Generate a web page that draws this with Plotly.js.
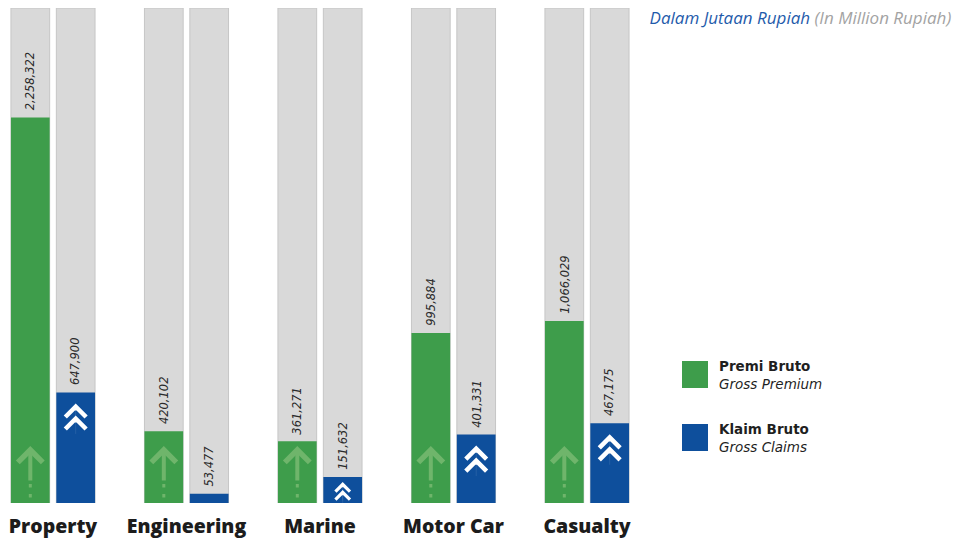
<!DOCTYPE html>
<html>
<head>
<meta charset="utf-8">
<script src="https://cdn.plot.ly/plotly-3.0.1.min.js"></script>
<style>
  html, body { margin: 0; padding: 0; background: #ffffff; }
  #chart { width: 956px; height: 539px; }
</style>
</head>
<body>
<div id="chart"></div>
<script>
// Gross premium and gross claims per line of business (million Rupiah)
const categories = ['Property', 'Engineering', 'Marine', 'Motor Car', 'Casualty'];
const grossPremium = [2258322, 420102, 361271, 995884, 1066029];
const grossClaims = [647900, 53477, 151632, 401331, 467175];
// Height of the grey background track behind every bar
const trackTop = 2900000;

const GREEN = '#3e9d4b';
const BLUE = '#0e4f9c';
const TRACK = '#d9d9d9';
const TRACK_EDGE = '#c6c6c6';

const W = 956, H = 539;
const M = { l: 0, r: 306, t: 8, b: 36 };
const plotW = W - M.l - M.r;
const plotH = H - M.t - M.b;

const barW = 0.29;
const offGreen = -0.315;
const offBlue = 0.025;
const cGreen = offGreen + barW / 2;
const cBlue = offBlue + barW / 2;

const idx = categories.map((_, i) => i);
const trackVals = categories.map(() => trackTop);

function bar(y, offset, color, edge, name) {
  return {
    type: 'bar', x: categories, y: y, name: name,
    offset: offset, width: barW,
    marker: { color: color, line: { color: edge, width: edge ? 1 : 0 } },
    hoverinfo: 'skip', showlegend: false
  };
}

const data = [
  bar(trackVals, offGreen, TRACK, TRACK_EDGE, 'track'),
  bar(trackVals, offBlue, TRACK, TRACK_EDGE, 'track'),
  bar(grossPremium, offGreen, GREEN, null, 'Premi Bruto'),
  bar(grossClaims, offBlue, BLUE, null, 'Klaim Bruto')
];

const pxPerUnit = plotH / trackTop;
const fmt = v => v.toLocaleString('en-US');
const annotations = [];

// value labels, rotated, just above each coloured bar
idx.forEach(i => {
  [[grossPremium[i], cGreen], [grossClaims[i], cBlue]].forEach(([v, c]) => {
    annotations.push({
      x: i + c, y: v, xref: 'x', yref: 'y',
      text: fmt(v), textangle: -90, showarrow: false,
      xanchor: 'center', yanchor: 'bottom', yshift: 5,
      font: { family: 'DejaVu Sans', size: 11.5, color: '#2a2a2a', style: 'italic' }
    });
  });
});

// faded up-arrow with dotted tail at the foot of each premium bar
const ARROW_GREEN = 'rgba(160,205,140,0.5)';
idx.forEach(i => {
  annotations.push({
    x: i + cGreen, y: 0, xref: 'x', yref: 'y', yshift: 57,
    text: '', showarrow: true, ax: 0, ay: 36, axref: 'pixel', ayref: 'pixel',
    arrowhead: 4, arrowsize: 1.2, arrowwidth: 4, arrowcolor: ARROW_GREEN,
    font: { size: 1 }
  });
  [4, 14].forEach(s => {
    annotations.push({
      x: i + cGreen, y: 0, xref: 'x', yref: 'y', yshift: s + 5,
      text: '', showarrow: true, ax: 0, ay: 5, axref: 'pixel', ayref: 'pixel',
      arrowhead: 0, arrowwidth: 3, arrowcolor: ARROW_GREEN,
      font: { size: 1 }
    });
  });
});

// white double chevron near the top of each claims bar (smaller on short bars)
idx.forEach(i => {
  const h = grossClaims[i] * pxPerUnit;
  if (h < 20) return;
  const small = h < 34;
  const shifts = small ? [5, 13] : [11, 23];
  shifts.forEach(s => {
    annotations.push({
      x: i + cBlue, y: grossClaims[i], xref: 'x', yref: 'y', yshift: -s,
      text: '', showarrow: true, ax: 0, ay: 20, axref: 'pixel', ayref: 'pixel',
      arrowhead: 4, arrowsize: small ? 28 : 40, arrowwidth: 0.1, arrowcolor: '#ffffff',
      font: { size: 1 }
    });
  });
});

// legend built from swatches and two-line captions
const px = x => (x - M.l) / plotW;
const py = y => (H - M.b - y) / plotH;
const legendItems = [
  { color: GREEN, top: 361, label: '<b>Premi Bruto</b><br><i>Gross Premium</i>' },
  { color: BLUE, top: 424, label: '<b>Klaim Bruto</b><br><i>Gross Claims</i>' }
];
const shapes = [];
legendItems.forEach(it => {
  shapes.push({
    type: 'rect', xref: 'paper', yref: 'paper',
    x0: px(682), x1: px(708), y0: py(it.top + 27), y1: py(it.top),
    fillcolor: it.color, line: { width: 0 }
  });
  annotations.push({
    xref: 'paper', yref: 'paper', x: px(717), y: py(it.top + 14),
    xanchor: 'left', yanchor: 'middle', align: 'left', showarrow: false,
    text: it.label,
    font: { family: 'DejaVu Sans', size: 13.5, color: '#1f1f1f' }
  });
});

const layout = {
  width: W, height: H,
  margin: M,
  paper_bgcolor: '#ffffff', plot_bgcolor: '#ffffff',
  barmode: 'overlay',
  showlegend: false,
  title: {
    text: '<i><span style="color:#1f5bab">Dalam Jutaan Rupiah</span> (In Million Rupiah)</i>',
    font: { family: 'Open Sans', size: 17, color: '#a3a3a3' },
    xref: 'container', yref: 'container', x: 0.995, xanchor: 'right',
    y: 1 - 18 / H, yanchor: 'middle'
  },
  xaxis: {
    type: 'category', range: [-53 / 133.5, (plotW - 53) / 133.5],
    showgrid: false, zeroline: false, showline: false, ticks: '',
    ticklabelstandoff: 9,
    tickfont: { family: 'Open Sans', size: 19.5, color: '#1c1c1c', weight: 800 }
  },
  yaxis: {
    range: [0, trackTop], showgrid: false, zeroline: false,
    showline: false, showticklabels: false, ticks: ''
  },
  annotations: annotations,
  shapes: shapes
};

Plotly.newPlot('chart', data, layout, { displayModeBar: false, staticPlot: true });
</script>
</body>
</html>
